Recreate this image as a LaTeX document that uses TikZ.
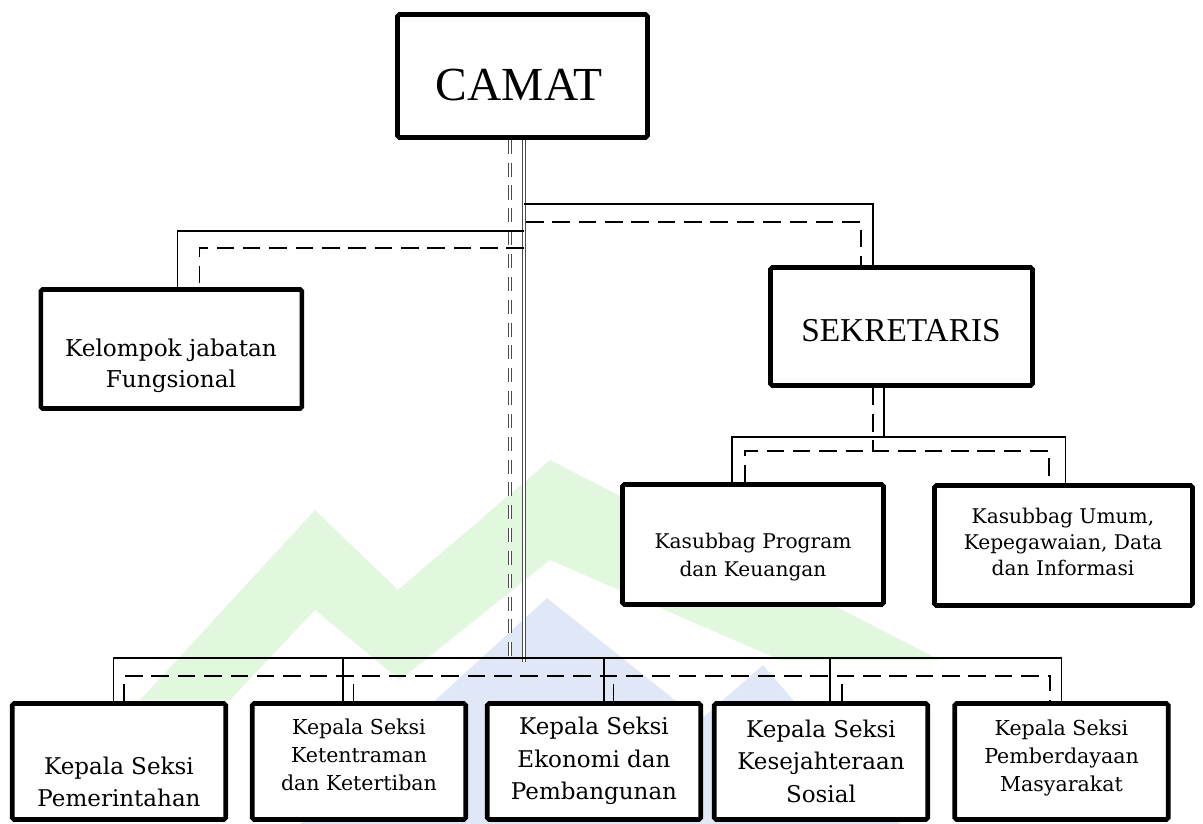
\documentclass[tikz,border=0pt]{standalone}
\usepackage{fontspec}
\setmainfont{DejaVu Serif}
\newfontfamily\headfont{Liberation Serif}
\usetikzlibrary{positioning}
\def\px{0.02cm}
\definecolor{wmgreen}{RGB}{226,248,222}
\definecolor{wmblue}{RGB}{224,232,248}

\begin{document}
\begin{tikzpicture}[x=\px,y=-\px]
	\tikzstyle{box}=[draw,line width=2.6pt,fill=white,rounded corners=1pt,inner sep=0pt]
	\tikzstyle{conn}=[line width=0.9pt]
	\tikzstyle{dconn}=[conn,dash pattern=on 10pt off 5pt]
	\tikzstyle{trunk}=[draw=black!70,double,line width=0.35pt,double distance=1.3pt]
	\tikzstyle{dtrunk}=[trunk,dash pattern=on 8pt off 5pt]
	\tikzstyle{lbl}=[align=center,inner sep=0pt]
	\tikzstyle{camat text}=[lbl,font=\headfont\fontsize{27}{30}\selectfont]
	\tikzstyle{sek text}=[lbl,font=\headfont\fontsize{19}{22}\selectfont]
	\tikzstyle{unit text}=[lbl,font=\fontsize{13.1}{18.5}\selectfont]
	\tikzstyle{small text}=[lbl,font=\fontsize{11.7}{16}\selectfont]

	\useasboundingbox (0,0) rectangle (1203,824);

	% faint logo in the background
	\fill[wmgreen] (140,700) -- (315,510) -- (398,590) -- (550,460) -- (940,660)
		-- (780,660) -- (550,560) -- (400,680) -- (315,610) -- (230,700) -- cycle;
	\fill[wmblue] (300,824) -- (547,598) -- (700,720) -- (763,665) -- (900,824) -- cycle;

	% Draw the upper boxes
	\node[box,minimum width=250*\px,minimum height=123*\px] (camat) at (522.5,76) {};
	\node[camat text] (camat-t) at (519,85) {CAMAT};
	\node[box,minimum width=261*\px,minimum height=119*\px] (kjf) at (171.3,349) {};
	\node[lbl,font=\fontsize{13.2}{17.6}\selectfont] (kjf-t) at (171,366) {Kelompok jabatan\\Fungsional};
	\node[box,minimum width=262*\px,minimum height=118*\px] (sek) at (901.5,326.5) {};
	\node[sek text] (sek-t) at (901,331) {SEKRETARIS};
	\node[box,minimum width=261*\px,minimum height=120*\px] (kpk) at (753,544.5) {};
	\node[lbl,font=\fontsize{11.5}{16}\selectfont] (kpk-t) at (753,557) {Kasubbag Program\\dan Keuangan};
	\node[box,minimum width=258*\px,minimum height=120*\px] (kum) at (1063.5,545.5) {};
	\node[lbl,font=\fontsize{11.5}{14.8}\selectfont] (kum-t) at (1063,542) {Kasubbag Umum,\\Kepegawaian, Data\\dan Informasi};

	% Draw the row of seksi boxes
	\foreach \name/\x/\ty/\fnt/\txt in {
		b1/119/782/unit text/{Kepala Seksi\\Pemerintahan},
		b2/359/755/small text/{Kepala Seksi\\Ketentraman\\dan Ketertiban},
		b3/594/761/unit text/{Kepala Seksi\\Ekonomi dan\\Pembangunan},
		b4/821/761/unit text/{Kepala Seksi\\Kesejahteraan\\Sosial},
		b5/1061.5/758/small text/{Kepala Seksi\\Pemberdayaan\\Masyarakat}}
	{
		\node[box,minimum width=213.5*\px,minimum height=116*\px] (\name) at (\x,761.5) {};
		\node[\fnt] (\name-t) at (\x,\ty) {\txt};
	}

	% feet of the connectors (solid / dashed) on the boxes
	\foreach \name/\s/\d in {kjf/6/28, sek/-28.5/-40.5, kpk/-21/-8, kum/2/-14.5,
		b1/-5.5/5, b2/-16/-5.5, b3/10/19.5, b4/9/21, b5/0/-11.5}
	{
		\coordinate (\name-s) at ([xshift=\s*\px]\name.north);
		\coordinate (\name-d) at ([xshift=\d*\px]\name.north);
	}
	\coordinate (sek-bs) at ([xshift=-17.5*\px]sek.south);
	\coordinate (sek-bd) at ([xshift=-28.5*\px]sek.south);

	% junctions
	\coordinate (trunkS) at (524,662);
	\coordinate (trunkD) at (510,662);
	\coordinate (jrS) at (524,204);
	\coordinate (jrD) at (526,222);
	\coordinate (jlS) at (524,231);
	\coordinate (jlD) at (524,248);
	\coordinate (subS) at (884,437);
	\coordinate (subD) at (873,451);
	\coordinate (barS) at (594,658);
	\coordinate (barD) at (594,676);

	% trunk from the camat
	\draw[trunk] (trunkS |- camat.south) -- (trunkS);
	\draw[dtrunk] (trunkD |- camat.south) -- (trunkD);

	% branches to kelompok and sekretaris
	\draw[conn] (jrS) -| (sek-s);
	\draw[dconn] (jrD) -| (sek-d);
	\draw[conn] (jlS) -| (kjf-s);
	\draw[dconn] (jlD) -| (kjf-d);

	% sekretaris to the kasubbag boxes
	\draw[conn] (sek-bs) -- (sek-bs |- subS);
	\draw[dconn] (sek-bd) -- (sek-bd |- subD);
	\draw[conn] (kpk-s) |- (subS) -| (kum-s);
	\draw[dconn] (kpk-d) |- (subD) -| (kum-d);

	% bar over the seksi boxes
	\draw[conn] (b1-s) |- (barS) -| (b5-s);
	\draw[dconn] (b1-d) |- (barD) -| (b5-d);
	\foreach \name in {b2,b3,b4}
	{
		\draw[conn] (\name-s) -- (\name-s |- barS);
		\draw[dconn] (\name-d) -- (\name-d |- barD);
	}
\end{tikzpicture}
\end{document}
